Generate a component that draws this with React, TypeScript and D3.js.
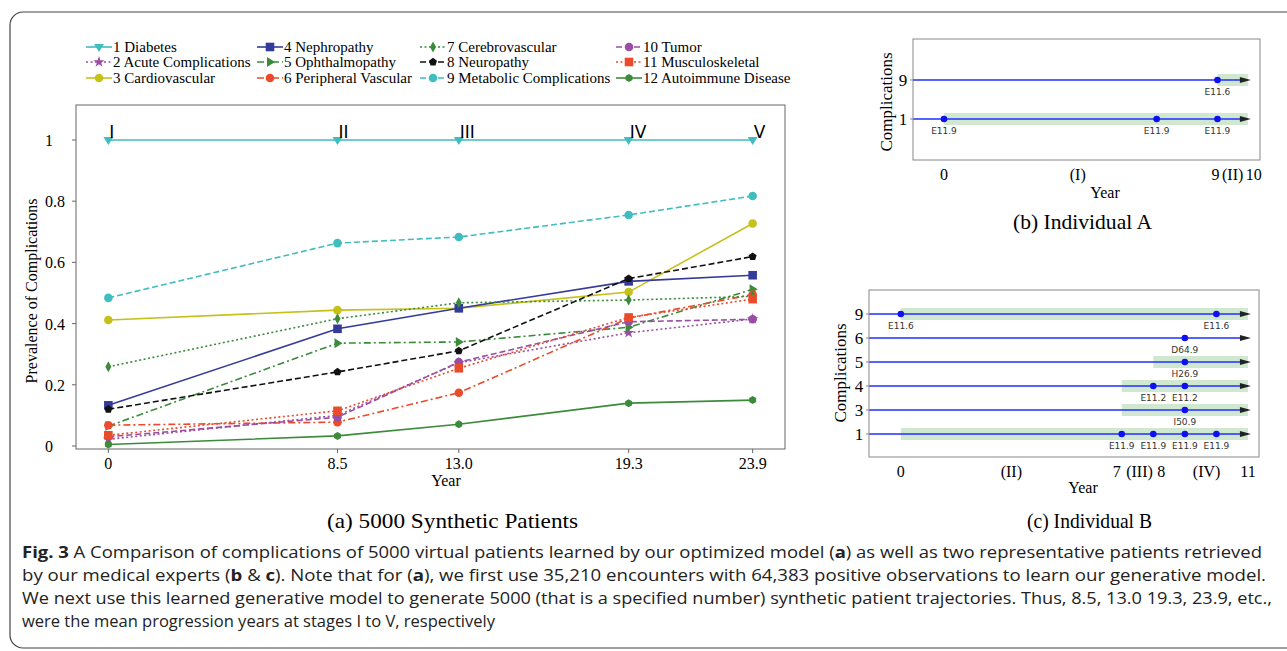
import React from 'react';
import * as d3 from 'd3';

// panel (a) data
const years = [0, 8.5, 13.0, 19.3, 23.9];
const yearLabels = ['0', '8.5', '13.0', '19.3', '23.9'];
const stageLabels = ['I', 'II', 'III', 'IV', 'V'];
const seriesNames = [
  '1 Diabetes', '2 Acute Complications', '3 Cardiovascular',
  '4 Nephropathy', '5 Ophthalmopathy', '6 Peripheral Vascular',
  '7 Cerebrovascular', '8 Neuropathy', '9 Metabolic Complications',
  '10 Tumor', '11 Musculoskeletal', '12 Autoimmune Disease',
];
const diabetes = [1, 1, 1, 1, 1];
const acute = [0.022, 0.1, 0.272, 0.37, 0.415];
const cardio = [0.412, 0.444, 0.45, 0.503, 0.727];
const nephro = [0.133, 0.383, 0.45, 0.538, 0.558];
const ophthal = [0.065, 0.336, 0.34, 0.388, 0.512];
const peripheral = [0.068, 0.078, 0.174, 0.418, 0.495];
const cerebro = [0.259, 0.416, 0.468, 0.477, 0.489];
const neuro = [0.12, 0.242, 0.311, 0.547, 0.619];
const metabolic = [0.484, 0.663, 0.683, 0.755, 0.817];
const tumor = [0.03, 0.094, 0.274, 0.406, 0.414];
const musculo = [0.035, 0.115, 0.254, 0.42, 0.48];
const autoimmune = [0.005, 0.033, 0.071, 0.14, 0.15];
const seriesValues = [diabetes, acute, cardio, nephro, ophthal, peripheral, cerebro, neuro, metabolic, tumor, musculo, autoimmune];
const yTicks = [0, 0.2, 0.4, 0.6, 0.8, 1];
const yTickLabels = ['0', '0.2', '0.4', '0.6', '0.8', '1'];

// styles per series
const colors = ['#3fbdbf', '#9a4ea3', '#c5c118', '#343b98', '#3b8b3b', '#ea4b2b', '#3b8b3b', '#111111', '#3fbdbf', '#9a4ea3', '#ea4b2b', '#3b8b3b'];
const dashes = ['', '2 2.5', '', '', '7 3 2 3', '7 3 2 3', '2 2.5', '6 3', '6 3', '6 3', '2 2.5', ''];
const markers = ['triDown', 'star', 'circle', 'square', 'triRight', 'circle', 'diamond', 'pentagon', 'circle', 'circle', 'square', 'hexagon'];

// panel (b) data
const bRows = ['1', '9'];
const bXTicks = [0, 4.5, 9, 9.5, 10];
const bXTickLabels = ['0', '(I)', '9', '(II)', '10'];
const bTickNudge = [0, -3, -2, 0, 6];
const bBands = [{ row: 0, from: 0, to: 10 }, { row: 1, from: 9, to: 10 }];
const bEvents = [
  { row: 0, t: 0, code: 'E11.9' }, { row: 0, t: 7, code: 'E11.9' }, { row: 0, t: 9, code: 'E11.9' },
  { row: 1, t: 9, code: 'E11.6' },
];

// panel (c) data
const cRows = ['1', '3', '4', '5', '6', '9'];
const cXTicks = [0, 3.5, 7, 7.5, 8, 9.5, 11];
const cXTickLabels = ['0', '(II)', '7', '(III)', '8', '(IV)', '11'];
const cTickNudge = [0, 0, -5, 2, 8, 6, 0];
const cBands = [
  { row: 0, from: 0, to: 11 }, { row: 1, from: 7, to: 11 }, { row: 2, from: 7, to: 11 },
  { row: 3, from: 8, to: 11 }, { row: 5, from: 0, to: 11 },
];
const cEvents = [
  { row: 0, t: 7, code: 'E11.9' }, { row: 0, t: 8, code: 'E11.9' }, { row: 0, t: 9, code: 'E11.9' }, { row: 0, t: 10, code: 'E11.9' },
  { row: 1, t: 9, code: 'I50.9' },
  { row: 2, t: 8, code: 'E11.2' }, { row: 2, t: 9, code: 'E11.2' },
  { row: 3, t: 9, code: 'H26.9' },
  { row: 4, t: 9, code: 'D64.9' },
  { row: 5, t: 0, code: 'E11.6' }, { row: 5, t: 10, code: 'E11.6' },
];

const SERIF = '"Liberation Serif", "DejaVu Serif", serif';
const SANS = '"DejaVu Sans", sans-serif';
const CAP = '"Open Sans", "Noto Sans", sans-serif';

function poly(pts: number[][]) {
  return 'M' + pts.map(p => p.join(',')).join('L') + 'Z';
}

function markerPath(kind: string): string {
  const r = 5;
  switch (kind) {
    case 'triDown': return poly([[0, r], [-r, -r * 0.6], [r, -r * 0.6]]);
    case 'triRight': return poly([[r, 0], [-r * 0.6, -r], [-r * 0.6, r]]);
    case 'square': return poly([[-4.3, -4.3], [4.3, -4.3], [4.3, 4.3], [-4.3, 4.3]]);
    case 'diamond': return poly([[0, -5.5], [3, 0], [0, 5.5], [-3, 0]]);
    case 'star': return d3.symbol(d3.symbolStar, 40)() || '';
    case 'pentagon': return poly(d3.range(5).map(i => {
      const a = -Math.PI / 2 + i * 2 * Math.PI / 5;
      return [4.2 * Math.cos(a), 4.2 * Math.sin(a)];
    }));
    case 'hexagon': return poly(d3.range(6).map(i => {
      const a = -Math.PI / 2 + i * Math.PI / 3;
      return [4 * Math.cos(a), 4 * Math.sin(a)];
    }));
    default: return d3.symbol(d3.symbolCircle, 58)() || '';
  }
}

function Timeline({ x, y, rows, bands, events, xTicks, xTickLabels, nudge, box, xEnd }: any) {
  const [l, t, r, b] = box;
  return (
    <g>
      {bands.map((d: any, i: number) => (
        <rect key={'b' + i} x={x(d.from)} y={y(d.row) - 6} width={x(d.to) - x(d.from)} height={12} fill="#cfe8cf" />
      ))}
      {rows.map((_: string, i: number) => (
        <g key={'r' + i}>
          <line x1={l} x2={x(xEnd) - 4} y1={y(i)} y2={y(i)} stroke="#1f2fff" strokeWidth={1.5} />
          <path d={`M${x(xEnd) - 8},${y(i) - 3}L${x(xEnd) + 3},${y(i)}L${x(xEnd) - 8},${y(i) + 3}Z`} fill="#222" />
        </g>
      ))}
      {events.map((d: any, i: number) => (
        <g key={'e' + i}>
          <circle cx={x(d.t)} cy={y(d.row)} r={3.3} fill="#1010ee" />
          <text x={x(d.t)} y={y(d.row) + 15} textAnchor="middle" fontFamily={SANS} fontSize={9} fill="#333">{d.code}</text>
        </g>
      ))}
      <rect x={l} y={t} width={r - l} height={b - t} fill="none" stroke="#888" strokeWidth={1} />
      {rows.map((lab: string, i: number) => (
        <g key={'yt' + i}>
          <line x1={l - 3} x2={l} y1={y(i)} y2={y(i)} stroke="#888" />
          <text x={l - 10} y={y(i) + 6} textAnchor="middle" fontFamily={SERIF} fontSize={17}>{lab}</text>
        </g>
      ))}
      {xTicks.map((v: number, i: number) => (
        <text key={'xt' + i} x={x(v) + nudge[i]} y={b + 20} textAnchor="middle" fontFamily={SERIF} fontSize={16}>{xTickLabels[i]}</text>
      ))}
    </g>
  );
}

export default function App() {
  const W = 1287, H = 651;
  const x = d3.scaleLinear().domain([-1.2, 25.1]).range([76, 785]);
  const y = d3.scaleLinear().domain([0, 1]).range([446, 140]);
  const line = d3.line<number>().x((_, i) => x(years[i])).y(d => y(d));

  const xb = d3.scaleLinear().domain([-1.02, 10.4]).range([913, 1260]);
  const yb = d3.scaleLinear().domain([-1.05, 2.05]).range([160, 39]);
  const xc = d3.scaleLinear().domain([-1.01, 11.35]).range([869, 1259]);
  const yc = d3.scaleLinear().domain([-0.96, 6.0]).range([457, 290]);

  const legCols = [86, 257, 420, 616];
  const legRows = [47, 62, 78];

  return (
    <svg width={W} height={H} style={{ position: 'absolute', left: 0, top: 0 }}>
      <rect x={0} y={0} width={W} height={H} fill="#fff" />
      <rect x={10} y={12} width={1320} height={636} rx={13} fill="none" stroke="#444" strokeWidth={1.2} />

      {/* legend */}
      {seriesNames.map((name, i) => {
        const cx = legCols[Math.floor(i / 3)];
        const cy = legRows[i % 3];
        return (
          <g key={'lg' + i}>
            <line x1={cx} x2={cx + 26} y1={cy} y2={cy} stroke={colors[i]} strokeWidth={1.6} strokeDasharray={dashes[i]} />
            <path d={markerPath(markers[i])} transform={`translate(${cx + 13},${cy})`} fill={colors[i]} />
            <text x={cx + 27} y={cy + 5} fontFamily={SERIF} fontSize={15}>{name}</text>
          </g>
        );
      })}

      {/* panel a */}
      <rect x={76} y={105} width={709} height={344} fill="none" stroke="#666" strokeWidth={1} />
      {seriesValues.map((vals, i) => (
        <g key={'s' + i}>
          <path d={line(vals) || ''} fill="none" stroke={colors[i]} strokeWidth={1.6} strokeDasharray={dashes[i]} />
          {vals.map((v, j) => (
            <path key={j} d={markerPath(markers[i])} transform={`translate(${x(years[j])},${y(v)})`} fill={colors[i]} />
          ))}
        </g>
      ))}
      {stageLabels.map((s, j) => (
        <text key={'st' + j} x={x(years[j]) + 1} y={y(1) - 2} fontFamily={SANS} fontSize={17} fill="#000">{s}</text>
      ))}
      {yTicks.map((v, i) => (
        <g key={'yt' + i}>
          <line x1={72} x2={76} y1={y(v)} y2={y(v)} stroke="#666" />
          <text x={45} y={y(v) + 6} fontFamily={SERIF} fontSize={16}>{yTickLabels[i]}</text>
        </g>
      ))}
      {years.map((v, i) => (
        <g key={'xt' + i}>
          <line x1={x(v)} x2={x(v)} y1={449} y2={453} stroke="#666" />
          <text x={x(v)} y={469} textAnchor="middle" fontFamily={SERIF} fontSize={16}>{yearLabels[i]}</text>
        </g>
      ))}
      <text x={446} y={486} textAnchor="middle" fontFamily={SERIF} fontSize={16}>Year</text>
      <text transform="translate(37,291) rotate(-90)" textAnchor="middle" fontFamily={SERIF} fontSize={16}>Prevalence of Complications</text>
      <text x={327} y={528} fontFamily={SERIF} fontSize={21} textLength={251} lengthAdjust="spacingAndGlyphs">(a) 5000 Synthetic Patients</text>

      {/* panel b */}
      <Timeline x={xb} y={yb} rows={bRows} bands={bBands} events={bEvents} xTicks={bXTicks} xTickLabels={bXTickLabels} nudge={bTickNudge} box={[913, 39, 1260, 160]} xEnd={10} />
      <text x={1105} y={198} textAnchor="middle" fontFamily={SERIF} fontSize={16}>Year</text>
      <text transform="translate(892,102) rotate(-90)" textAnchor="middle" fontFamily={SERIF} fontSize={17}>Complications</text>
      <text x={1013} y={229} fontFamily={SERIF} fontSize={21} textLength={139} lengthAdjust="spacingAndGlyphs">(b) Individual A</text>

      {/* panel c */}
      <Timeline x={xc} y={yc} rows={cRows} bands={cBands} events={cEvents} xTicks={cXTicks} xTickLabels={cXTickLabels} nudge={cTickNudge} box={[869, 290, 1259, 457]} xEnd={11} />
      <text x={1083} y={493} textAnchor="middle" fontFamily={SERIF} fontSize={16}>Year</text>
      <text transform="translate(846,373) rotate(-90)" textAnchor="middle" fontFamily={SERIF} fontSize={17}>Complications</text>
      <text x={1027} y={528} fontFamily={SERIF} fontSize={21} textLength={125} lengthAdjust="spacingAndGlyphs">(c) Individual B</text>

      {/* caption */}
      <g fontFamily={CAP} fontSize={16} fill="#222" style={{ whiteSpace: 'pre' }}>
        <text x={22} y={558} textLength={1240} lengthAdjust="spacingAndGlyphs">
          <tspan fontWeight="bold">Fig. 3</tspan>
          <tspan>{'  A Comparison of complications of 5000 virtual patients learned by our optimized model ('}</tspan>
          <tspan fontWeight="bold">a</tspan>
          <tspan>) as well as two representative patients retrieved</tspan>
        </text>
        <text x={22} y={581} textLength={1244} lengthAdjust="spacingAndGlyphs">
          <tspan>by our medical experts (</tspan>
          <tspan fontWeight="bold">b</tspan>
          <tspan>{' & '}</tspan>
          <tspan fontWeight="bold">c</tspan>
          <tspan>). Note that for (</tspan>
          <tspan fontWeight="bold">a</tspan>
          <tspan>), we first use 35,210 encounters with 64,383 positive observations to learn our generative model.</tspan>
        </text>
        <text x={22} y={604} textLength={1250} lengthAdjust="spacingAndGlyphs">We next use this learned generative model to generate 5000 (that is a specified number) synthetic patient trajectories. Thus, 8.5, 13.0 19.3, 23.9, etc.,</text>
        <text x={22} y={627} textLength={473} lengthAdjust="spacingAndGlyphs">were the mean progression years at stages I to V, respectively</text>
      </g>
    </svg>
  );
}
